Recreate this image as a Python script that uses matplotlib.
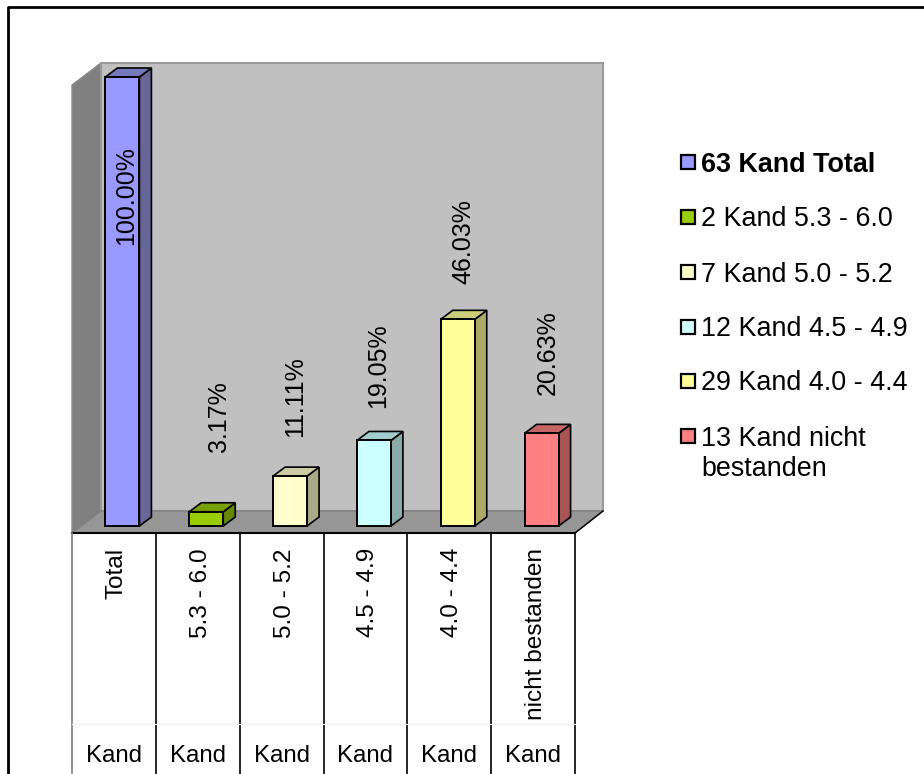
import matplotlib
matplotlib.use('Agg')
import matplotlib.pyplot as plt
from matplotlib.patches import Polygon, Rectangle

plt.rcParams['font.family'] = ['Liberation Sans', 'DejaVu Sans']

categories = ['Total', '5.3 - 6.0', '5.0 - 5.2', '4.5 - 4.9', '4.0 - 4.4', 'nicht bestanden']
values = [100.00, 3.17, 11.11, 19.05, 46.03, 20.63]
legend_labels = ['63 Kand Total', '2 Kand 5.3 - 6.0', '7 Kand 5.0 - 5.2',
                 '12 Kand 4.5 - 4.9', '29 Kand 4.0 - 4.4', '13 Kand nicht\nbestanden']
front_colors = ['#9999ff', '#99cc00', '#ffffcc', '#ccffff', '#ffff99', '#ff8080']
side_colors = ['#666699', '#668800', '#aaaa88', '#88aaaa', '#aaaa66', '#a85555']
top_colors = ['#7777bb', '#7a9f00', '#cccca3', '#a3cccc', '#cccc7a', '#c46666']

W, H = 924, 774

fig = plt.figure(figsize=(W / 100, H / 100), dpi=100, facecolor='white')

# pixel axes for the frame, walls and table
bg = fig.add_axes([0, 0, 1, 1])
bg.set_xlim(0, W)
bg.set_ylim(H, 0)
bg.axis('off')
bg.plot([8, 8, W], [H, 7, 7], color='black', lw=2)

bg.add_patch(Polygon([(72, 85), (101, 63), (101, 511), (72, 533)], fc='#808080', ec='#8a8a8a', lw=1))
bg.add_patch(Rectangle((101, 63), 502, 448, fc='#c0c0c0', ec='#999999', lw=1.5))
bg.add_patch(Polygon([(72, 533), (101, 511), (603, 511), (575, 533)], fc='#969696', ec='#808080', lw=1))
bg.plot([72, 575], [533, 533], color='black', lw=1.5)
bg.plot([575, 603], [533, 511], color='black', lw=1)

# data axes: one unit per category, percent upwards
ax = fig.add_axes([72 / W, (H - 526) / H, 503 / W, 449 / H])
ax.set_xlim(0, 6)
ax.set_ylim(0, 100)
ax.patch.set_alpha(0)
ax.axis('off')

px_x = 6 / 503
px_y = 100 / 449
dx = 12 * px_x
dy = 9 * px_y
bw = 34 * px_x
xs = [i + 0.5 + 8.5 * px_x for i in range(len(values))]

ax.bar(xs, values, width=bw, color=front_colors, edgecolor='black', linewidth=1.4, clip_on=False, zorder=3)
for x, v, sc, tc in zip(xs, values, side_colors, top_colors):
    l, r = x - bw / 2, x + bw / 2
    ax.add_patch(Polygon([(r, 0), (r + dx, dy), (r + dx, v + dy), (r, v)], fc=sc, ec='black', lw=1.2, clip_on=False, zorder=2))
    ax.add_patch(Polygon([(l, v), (l + dx, v + dy), (r + dx, v + dy), (r, v)], fc=tc, ec='black', lw=1.2, clip_on=False, zorder=2))

# value labels sit where Excel left them, not at a fixed gap
label_shift = [3.5, 12.5, 5.5, 4.5, 5.5, 6.5]
label_bottom = [245, 452, 437, 408, 284, 395]
for x, v, sh, b in zip(xs, values, label_shift, label_bottom):
    ax.text(x + sh * px_x, (526 - b) * px_y, f'{v:.2f}%', rotation=90, ha='center', va='bottom',
            fontsize=18, color='black', zorder=5, clip_on=False)

# table under the chart
edges = [72 + i * 503 / 6 for i in range(7)]
for i, e in enumerate(edges):
    bg.plot([e, e], [533, H], color='#808080' if i == 0 else 'black', lw=1.2)
bg.plot([72, 575], [724, 724], color='#f2f2f2', lw=0.8)
for i, c in enumerate(categories):
    cx = (edges[i] + edges[i + 1]) / 2
    bg.text(cx + 3, 548, c, rotation=90, ha='center', va='top', fontsize=17.6)
    bg.text(cx, 756, 'Kand', ha='center', va='center', fontsize=17.3)

# legend, hand placed like the original
leg_y = [162, 217, 272, 327, 381, 436]
for i, (lab, c) in enumerate(zip(legend_labels, front_colors)):
    bg.add_patch(Rectangle((681, leg_y[i] - 7), 14, 14, fc=c, ec='black', lw=1.6))
    bg.text(701, leg_y[i] - 10.5, lab, ha='left', va='top', fontsize=19.4, linespacing=1.24,
            fontweight='bold' if i == 0 else 'normal')

fig.savefig('out.png', dpi=100)
